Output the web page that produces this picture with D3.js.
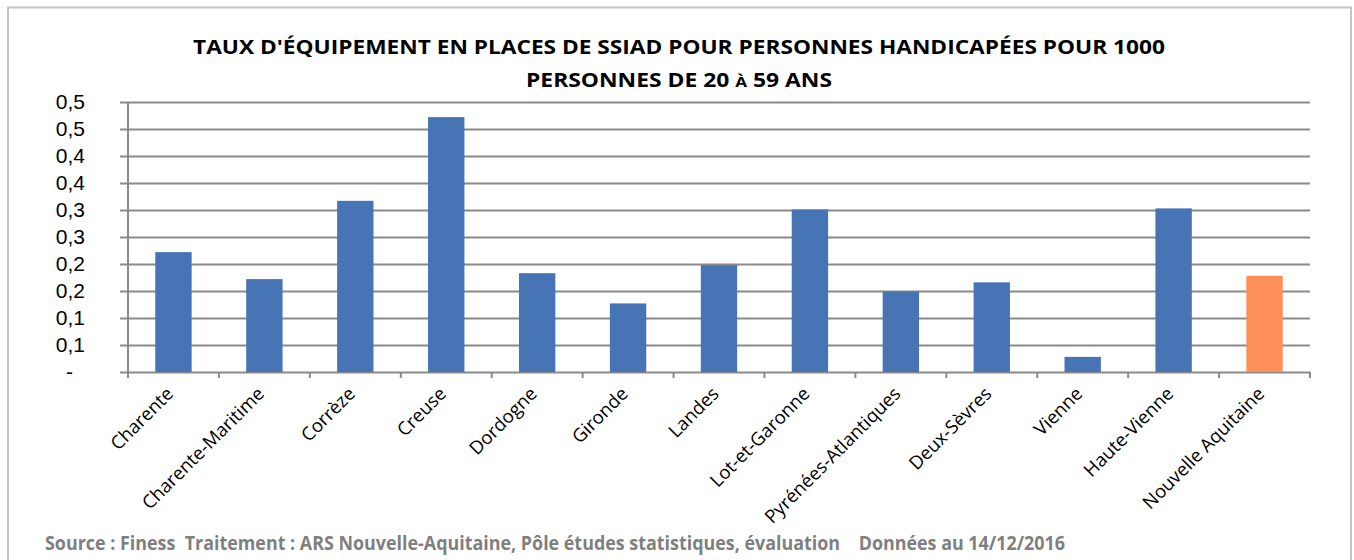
<!DOCTYPE html>
<html>
<head>
<meta charset="utf-8">
<script src="https://cdn.jsdelivr.net/npm/d3@7"></script>
<style>
  body { margin: 0; background: #fff; }
  svg { display: block; font-family: "Open Sans", sans-serif; }
</style>
</head>
<body>
<svg id="chart" width="1354" height="560"></svg>
<script>
const categories = ["Charente", "Charente-Maritime", "Corrèze", "Creuse", "Dordogne", "Gironde",
  "Landes", "Lot-et-Garonne", "Pyrénées-Atlantiques", "Deux-Sèvres", "Vienne", "Haute-Vienne",
  "Nouvelle Aquitaine"];
const values = [0.222, 0.172, 0.317, 0.472, 0.183, 0.127, 0.198, 0.301, 0.149, 0.166, 0.028, 0.303, 0.178];
const yTicks = [0, 0.05, 0.1, 0.15, 0.2, 0.25, 0.3, 0.35, 0.4, 0.45, 0.5];
const yTickLabels = ["-", "0,1", "0,1", "0,2", "0,2", "0,3", "0,3", "0,4", "0,4", "0,5", "0,5"];
const titleLines = ["TAUX D'ÉQUIPEMENT EN PLACES DE SSIAD POUR PERSONNES HANDICAPÉES POUR 1000",
  "PERSONNES DE 20 À 59 ANS"];
const source = "Source : Finess  Traitement : ARS Nouvelle-Aquitaine, Pôle études statistiques, évaluation    Données au 14/12/2016";

const svg = d3.select("#chart");
const plotLeft = 128, plotRight = 1310, plotTop = 102, plotBottom = 372;

// chart frame
svg.append("rect")
  .attr("x", 8).attr("y", 7.5)
  .attr("width", 1343).attr("height", 600)
  .attr("fill", "none").attr("stroke", "#c4c4c4").attr("stroke-width", 2);

const x = d3.scaleBand()
  .domain(categories)
  .range([plotLeft, plotRight])
  .paddingInner(0.6)
  .paddingOuter(0.3);

const y = d3.scaleLinear().domain([0, 0.5]).range([plotBottom, plotTop]);

// gridlines + y labels
const yAxis = d3.axisLeft(y)
  .tickValues(yTicks)
  .tickSize(-(plotRight - plotLeft))
  .tickPadding(44)
  .tickFormat((d, i) => yTickLabels[i]);

const gy = svg.append("g")
  .attr("transform", `translate(${plotLeft},0)`)
  .call(yAxis);
gy.select(".domain").remove();
gy.selectAll(".tick line")
  .attr("x1", -8)
  .attr("stroke", "#8a8a8a").attr("stroke-width", 2);
gy.selectAll(".tick text")
  .attr("x", -43)
  .attr("font-size", 21).attr("fill", "#000")
  .attr("dx", (d, i) => i === 0 ? -12 : 0);

// vertical axis line
svg.append("line")
  .attr("x1", plotLeft).attr("x2", plotLeft)
  .attr("y1", plotTop).attr("y2", plotBottom + 6)
  .attr("stroke", "#8a8a8a").attr("stroke-width", 2);

// category boundary ticks
const step = x.step();
svg.append("g").selectAll("line")
  .data(d3.range(categories.length + 1))
  .join("line")
  .attr("x1", i => plotLeft + i * step).attr("x2", i => plotLeft + i * step)
  .attr("y1", plotBottom).attr("y2", plotBottom + 6)
  .attr("stroke", "#8a8a8a").attr("stroke-width", 2);

// bars
svg.append("g").selectAll("rect")
  .data(values)
  .join("rect")
  .attr("x", (d, i) => x(categories[i]))
  .attr("y", d => y(d))
  .attr("width", x.bandwidth())
  .attr("height", d => plotBottom - y(d))
  .attr("fill", (d, i) => i === categories.length - 1 ? "#ff8f59" : "#4674b5");

// category labels
svg.append("g").selectAll("text")
  .data(categories)
  .join("text")
  .attr("transform", d => `translate(${x(d) + x.bandwidth() / 2 + 1},${plotBottom + 23}) rotate(-45)`)
  .attr("text-anchor", "end")
  .attr("font-size", 18.5)
  .attr("fill", "#000")
  .text(d => d);

// title
svg.append("text")
  .attr("x", 679).attr("y", 54)
  .attr("text-anchor", "middle")
  .attr("font-size", 20).attr("font-weight", "bold")
  .attr("textLength", 972).attr("lengthAdjust", "spacingAndGlyphs")
  .text(titleLines[0]);
const t2 = titleLines[1].split("À");
const title2 = svg.append("text")
  .attr("x", 679).attr("y", 87)
  .attr("text-anchor", "middle")
  .attr("font-size", 20).attr("font-weight", "bold")
  .attr("textLength", 306).attr("lengthAdjust", "spacingAndGlyphs");
title2.append("tspan").text(t2[0]);
title2.append("tspan").attr("font-size", 15).text("À");
title2.append("tspan").text(t2[1]);

// source
svg.append("text")
  .attr("x", 45).attr("y", 550)
  .attr("font-size", 20).attr("font-weight", "bold")
  .attr("fill", "#7f7f7f")
  .attr("textLength", 1020).attr("lengthAdjust", "spacingAndGlyphs")
  .attr("xml:space", "preserve")
  .text(source);
</script>
</body>
</html>
